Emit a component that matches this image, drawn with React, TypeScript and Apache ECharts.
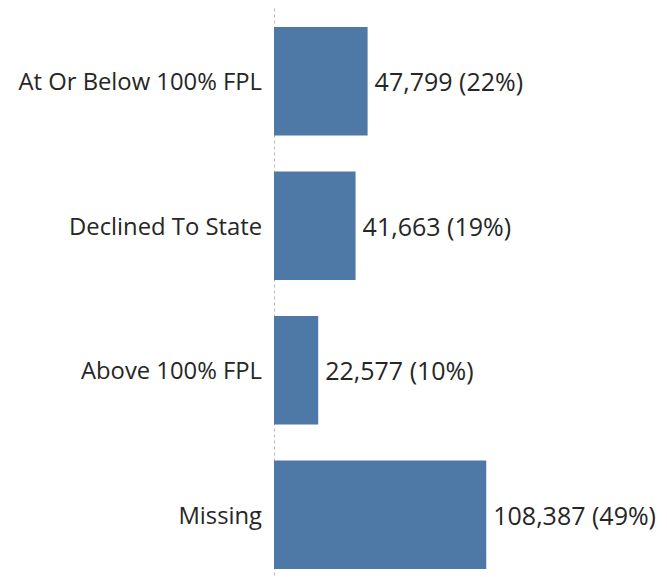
import React, { useEffect, useRef } from "react";
import * as echarts from "echarts";

const categories = ["At Or Below 100% FPL", "Declined To State", "Above 100% FPL", "Missing"];
const values = [47799, 41663, 22577, 108387];
const percents = ["22%", "19%", "10%", "49%"];

export default function App() {
  const ref = useRef<HTMLDivElement>(null);
  useEffect(() => {
    if (!ref.current) return;
    const chart = echarts.init(ref.current, null, { renderer: "svg" });
    chart.setOption({
      animation: false,
      backgroundColor: "#ffffff",
      grid: { left: 274, top: 9, width: 235, height: 578, containLabel: false },
      xAxis: {
        type: "value",
        min: 0,
        max: 120000,
        show: false,
      },
      yAxis: {
        type: "category",
        data: categories,
        inverse: true,
        axisLine: { show: true, lineStyle: { type: [2, 4], color: "#b8b8b8", width: 1 } },
        axisTick: { show: false },
        axisLabel: {
          margin: 12,
          fontSize: 23.8,
          fontWeight: 500,
          color: "#262626",
          fontFamily: "Open Sans",
        },
        splitLine: { show: false },
      },
      series: [
        {
          type: "bar",
          data: values,
          barCategoryGap: "25%",
          itemStyle: { color: "#4e79a7" },
          label: {
            show: true,
            position: "right",
            distance: 7,
            fontSize: 25,
            fontWeight: 500,
            color: "#262626",
            fontFamily: "Open Sans",
            formatter: (p: any) =>
              `${values[p.dataIndex].toLocaleString("en-US")} (${percents[p.dataIndex]})`,
          },
        },
      ],
    });
    return () => chart.dispose();
  }, []);
  return (
    <div style={{ position: "fixed", left: 0, top: 0, width: 667, height: 577, overflow: "hidden", background: "#fff" }}>
      <div ref={ref} style={{ width: 667, height: 600 }} />
    </div>
  );
}
